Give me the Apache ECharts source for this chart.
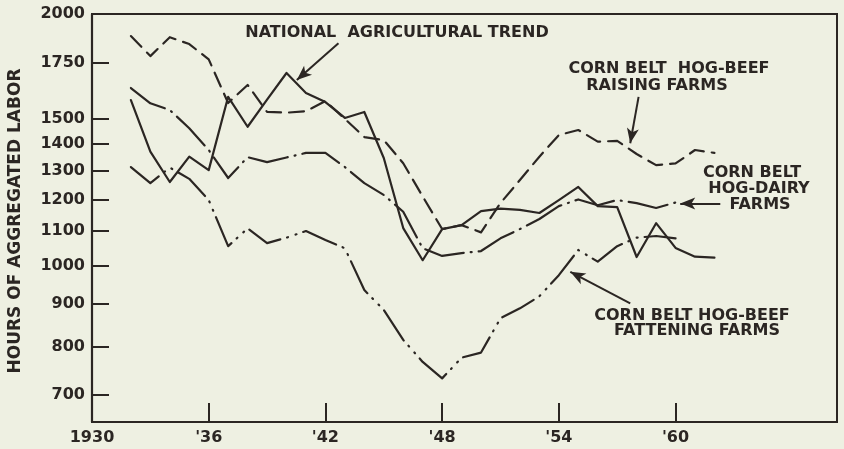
<!DOCTYPE html>
<html><head><meta charset="utf-8">
<script src="https://cdn.jsdelivr.net/npm/echarts@6/dist/echarts.min.js"></script>
<style>html,body{margin:0;padding:0;background:#eef0e2}#c{width:844px;height:449px}</style>
</head><body><div id="c"></div>
<script>
// ---- data ----
const years = [1932,1933,1934,1935,1936,1937,1938,1939,1940,1941,1942,1943,1944,1945,1946,1947,1948,1949,1950,1951,1952,1953,1954,1955,1956,1957,1958,1959,1960,1961,1962];
const raisingFarms = [1882,1781,1876,1841,1765,1565,1645,1527,1524,1530,1574,1498,1425,1413,1326,1210,1106,1118,1096,1188,1266,1350,1433,1453,1407,1410,1360,1319,1325,1375,1364];
const nationalTrend = [1578,1369,1259,1350,1301,1592,1466,1580,1700,1609,1569,1502,1527,1345,1109,1015,1106,1118,1162,1170,1166,1156,1198,1242,1178,1175,1024,1124,1050,1025,1022];
const hogDairyFarms = [1631,1564,1535,1460,1375,1273,1348,1330,1347,1364,1364,1312,1255,1215,1160,1049,1027,1035,1041,1078,1106,1137,1178,1200,1181,1198,1188,1172,1190];
const fatteningFarms = [1312,1255,1310,1270,1198,1055,1108,1064,1080,1100,1073,1049,935,885,815,767,733,776,787,865,889,919,974,1044,1011,1055,1080,1085,1078];
const yTicks = [700,800,900,1000,1100,1200,1300,1400,1500,1750,2000];
const xTicks = [1930,1936,1942,1948,1954,1960];

const INK = '#2b2623';
const FONT = '"DejaVu Sans"';
const pairs = (vals) => vals.map((v, i) => [years[i], v]);

function arrow(from, to) {
  return {
    symbol: ['none', 'arrow'],
    symbolSize: [9, 15],
    silent: true,
    animation: false,
    label: { show: false },
    lineStyle: { color: INK, width: 2, type: 'solid' },
    emphasis: { disabled: true },
    data: [[{ coord: from }, { coord: to }]]
  };
}

function lineSeries(name, vals, dash, mark) {
  const s = {
    name, type: 'line', data: pairs(vals), symbol: 'none', silent: true,
    lineStyle: { color: INK, width: 2.2, type: dash, cap: 'round', join: 'round' },
    emphasis: { disabled: true }
  };
  if (mark) s.markLine = mark;
  return s;
}

function txt(text, x, y, size, rot) {
  return {
    type: 'text', x, y, rotation: rot || 0, silent: true,
    style: { text, fill: INK, font: 'bold ' + size + 'px ' + FONT, align: 'center', verticalAlign: 'middle' }
  };
}

const chart = echarts.init(document.getElementById('c'), null, { renderer: 'canvas' });
chart.setOption({
  backgroundColor: '#eef0e2',
  animation: false,
  grid: { left: 92, right: 7, top: 14, bottom: 27, show: true, borderColor: INK, borderWidth: 2, containLabel: false },
  xAxis: {
    type: 'value', min: 1930, max: 1968.3,
    axisLine: { show: true, lineStyle: { color: INK, width: 2.2 } },
    axisTick: { show: true, inside: true, length: 19, lineStyle: { color: INK, width: 2 }, customValues: xTicks },
    axisLabel: {
      color: INK, fontFamily: FONT, fontWeight: 'bold', fontSize: 16, margin: 8, customValues: xTicks,
      formatter: (v) => Math.round(v) === 1930 ? '1930' : "'" + String(Math.round(v)).slice(2)
    },
    splitLine: { show: false }
  },
  yAxis: {
    type: 'log', min: 650, max: 2000,
    axisLine: { show: true, lineStyle: { color: INK, width: 2.2 } },
    axisTick: { show: true, inside: true, length: 17, lineStyle: { color: INK, width: 2 }, customValues: yTicks },
    axisLabel: {
      color: INK, fontFamily: FONT, fontWeight: 'bold', fontSize: 16, margin: 7, customValues: yTicks,
      formatter: (v) => String(Math.round(v))
    },
    splitLine: { show: false },
    minorTick: { show: false }
  },
  series: [
    lineSeries('Corn Belt hog-beef raising farms', raisingFarms, [15, 8],
      arrow([1958.1, 1592], [1957.67, 1401])),
    lineSeries('National agricultural trend', nationalTrend, 'solid',
      arrow([1942.67, 1845], [1940.53, 1667])),
    lineSeries('Corn Belt hog-dairy farms', hogDairyFarms, [40, 7, 1, 7],
      arrow([1962.3, 1187], [1960.24, 1187])),
    lineSeries('Corn Belt hog-beef fattening farms', fatteningFarms, [36, 7, 1, 8, 1, 7],
      arrow([1957.67, 901], [1954.59, 983]))
  ],
  graphic: [
    txt('HOURS OF AGGREGATED LABOR', 15.5, 221, 17, Math.PI / 2),
    txt('NATIONAL  AGRICULTURAL TREND', 397, 33, 16),
    txt('CORN BELT  HOG-BEEF', 669, 69, 16),
    txt('RAISING FARMS', 657, 86, 16),
    txt('CORN BELT', 752, 172.5, 16),
    txt('HOG-DAIRY', 759, 188.5, 16),
    txt('FARMS', 760, 205, 16),
    txt('CORN BELT HOG-BEEF', 692, 315.5, 16),
    txt('FATTENING FARMS', 697, 331, 16)
  ]
});
</script>
</body></html>
